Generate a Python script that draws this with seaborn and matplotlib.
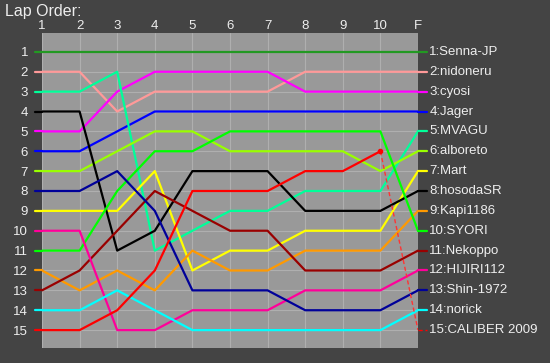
import pandas as pd
import matplotlib.pyplot as plt
import seaborn as sns

# Lap chart data: position of each driver at laps 1..10 and at the finish (F)
laps = [1, 2, 3, 4, 5, 6, 7, 8, 9, 10, 11]
lap_labels = ["1", "2", "3", "4", "5", "6", "7", "8", "9", "10", "F"]

drivers = ["Senna-JP", "nidoneru", "cyosi", "Jager", "MVAGU", "alboreto", "Mart",
           "hosodaSR", "Kapi1186", "SYORI", "Nekoppo", "HIJIRI112", "Shin-1972",
           "norick", "CALIBER 2009"]

senna = [1, 1, 1, 1, 1, 1, 1, 1, 1, 1, 1]
nidoneru = [2, 2, 4, 3, 3, 3, 3, 2, 2, 2, 2]
cyosi = [5, 5, 3, 2, 2, 2, 2, 3, 3, 3, 3]
jager = [6, 6, 5, 4, 4, 4, 4, 4, 4, 4, 4]
mvagu = [3, 3, 2, 11, 10, 9, 9, 8, 8, 8, 5]
alboreto = [7, 7, 6, 5, 5, 6, 6, 6, 6, 7, 6]
mart = [9, 9, 9, 7, 12, 11, 11, 10, 10, 10, 7]
hosoda = [4, 4, 11, 10, 7, 7, 7, 9, 9, 9, 8]
kapi = [12, 13, 12, 13, 11, 12, 12, 11, 11, 11, 9]
syori = [11, 11, 8, 6, 6, 5, 5, 5, 5, 5, 10]
nekoppo = [13, 12, 10, 8, 9, 10, 10, 12, 12, 12, 11]
hijiri = [10, 10, 15, 15, 14, 14, 14, 13, 13, 13, 12]
shin = [8, 8, 7, 9, 13, 13, 13, 14, 14, 14, 13]
norick = [14, 14, 13, 14, 15, 15, 15, 15, 15, 15, 14]
caliber = [15, 15, 14, 12, 8, 8, 8, 7, 7, 6, 15]

positions = [senna, nidoneru, cyosi, jager, mvagu, alboreto, mart, hosoda,
             kapi, syori, nekoppo, hijiri, shin, norick, caliber]

colors = ["#229922", "#FF9999", "#FF00FF", "#0000FF", "#00FF99", "#99FF00", "#FFFF00",
          "#000000", "#FF9900", "#00FF00", "#990000", "#FF0099", "#000099",
          "#00FFFF", "#FF0000"]

rows = []
for name, pos in zip(drivers, positions):
    for lap, p in zip(laps, pos):
        rows.append({"driver": name, "lap": lap, "pos": p})
df = pd.DataFrame(rows)

sns.set_style("white")
plt.rcParams["font.family"] = ["Liberation Sans", "DejaVu Sans"]

fig = plt.figure(figsize=(5.5, 3.63), dpi=100, facecolor="#444444")
ax = fig.add_axes([42 / 550, 15 / 363, 376 / 550, 315 / 363])
ax.set_facecolor("#999999")

# retired driver: solid until lap 10, dashed to the finish
solid = df[~((df["driver"] == "CALIBER 2009") & (df["lap"] == 11))]
sns.lineplot(data=solid, x="lap", y="pos", hue="driver", palette=dict(zip(drivers, colors)),
             estimator=None, sort=False, linewidth=1.6, legend=False, ax=ax)

ret = df[(df["driver"] == "CALIBER 2009") & (df["lap"] >= 10)]
ax.plot(ret["lap"], ret["pos"], color="#FF3333", linestyle=(0, (3, 2)), linewidth=1)
ax.plot([10], [caliber[9]], "o", color="#FF0000", markersize=3)

# short stubs outside the grid and name labels on the right
for name, pos, c in zip(drivers, positions, colors):
    ls = (0, (3, 2)) if name == "CALIBER 2009" else "-"
    lw = 1 if name == "CALIBER 2009" else 1.6
    ax.plot([0.81, 1], [pos[0], pos[0]], color=c, linewidth=1.6, clip_on=False)
    ax.plot([11, 11.24], [pos[-1], pos[-1]], color=c, linewidth=lw, linestyle=ls, clip_on=False)
    ax.text(11.3, pos[-1], f"{pos[-1]}:{name}", color="#EEEEEE", fontsize=9.5,
            va="center", ha="left", clip_on=False)

ax.set_xlim(1, 11)
ax.set_ylim(15.9, 0.05)
ax.set_xticks(laps)
ax.set_xticklabels(lap_labels)
ax.set_yticks(range(1, 16))
ax.set_yticklabels([str(i) for i in range(1, 16)])
ax.xaxis.tick_top()
ax.tick_params(axis="both", length=0, colors="#EEEEEE", labelsize=9.5)
ax.tick_params(axis="y", pad=10)
ax.tick_params(axis="x", pad=1)
ax.grid(True, color="#AFAFAF", linewidth=0.8)
ax.set_axisbelow(True)
for s in ax.spines.values():
    s.set_visible(False)
ax.set_xlabel("")
ax.set_ylabel("")

fig.text(5 / 550, 1 - 4 / 363, "Lap Order:", color="#EEEEEE", fontsize=11.5, va="top", ha="left")

fig.savefig("out.png", dpi=100, facecolor=fig.get_facecolor())
